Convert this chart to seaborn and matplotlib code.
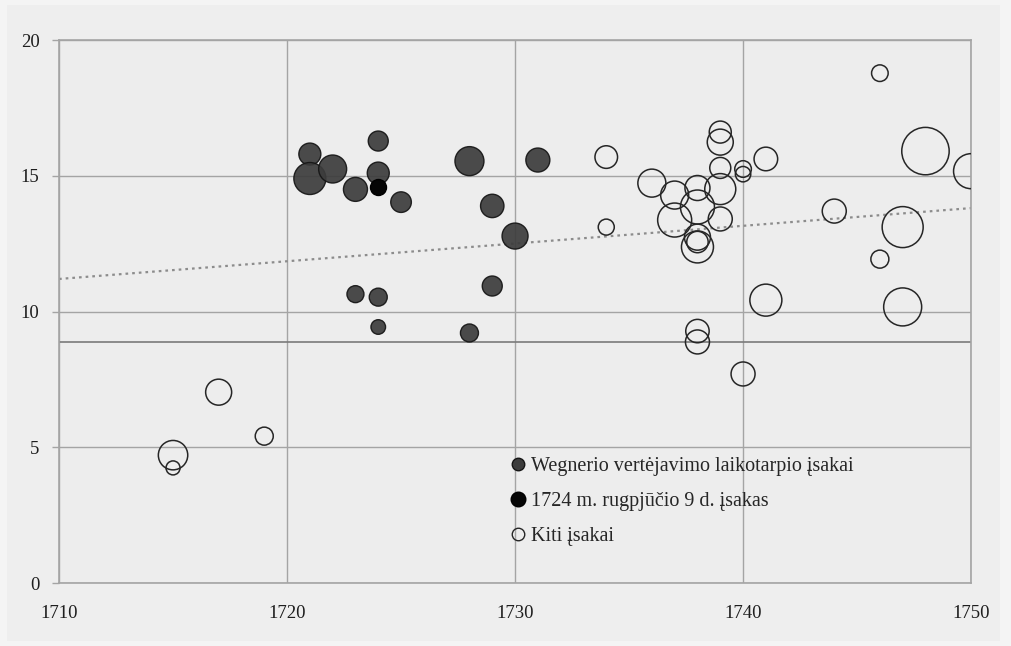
"""Bubble chart of decrees by year (Wegner translation period vs others)."""

import matplotlib.pyplot as plt
import matplotlib.patches as mpatches
from matplotlib.lines import Line2D
import pandas as pd
import seaborn as sns

# --- data --------------------------------------------------------------
wegner_year = [1721, 1721, 1722, 1723, 1724, 1724, 1725, 1728, 1731,
               1729, 1730, 1723, 1724, 1724, 1729, 1728]
wegner_val = [15.8, 14.9, 15.25, 14.5, 16.28, 15.1, 14.03, 15.54, 15.58,
              13.89, 12.78, 10.64, 10.53, 9.43, 10.94, 9.21]
wegner_r = [11, 16, 14, 12, 10, 11, 10.3, 14.5, 12,
            11.7, 13, 8.5, 9, 7.3, 10, 9]

special_year = [1724]
special_val = [14.59]
special_r = [8]

other_year = [1746, 1739, 1739, 1734, 1741, 1748, 1750, 1740, 1740, 1739,
              1736, 1737, 1738, 1739, 1738, 1737, 1739, 1734, 1738, 1738,
              1738, 1744, 1747, 1746, 1741, 1747, 1738, 1738, 1740, 1717,
              1719, 1715, 1715]
other_val = [18.78, 16.61, 16.24, 15.69, 15.62, 15.91, 15.17, 15.25, 15.06, 15.29,
             14.73, 14.29, 14.55, 14.51, 13.85, 13.37, 13.41, 13.11, 12.74, 12.56,
             12.38, 13.70, 13.11, 11.93, 10.42, 10.17, 9.28, 8.88, 7.70, 7.03,
             5.41, 4.71, 4.24]
other_r = [8.3, 11, 13, 11.3, 11.8, 23.7, 17.5, 8.3, 7.7, 10.5,
           14, 14, 12.5, 15.5, 17, 17, 12, 8, 13, 10.7,
           16, 12, 20.5, 9, 16, 19, 11.7, 12, 12, 13,
           9, 14.7, 7]

trend_year = [1710, 1750]
trend_val = [11.2, 13.81]
mean_line = 8.88

labels = ["Wegnerio vertėjavimo laikotarpio įsakai",
          "1724 m. rugpjūčio 9 d. įsakas",
          "Kiti įsakai"]

# --- styling -----------------------------------------------------------
sns.set_theme(style="white")
plt.rcParams["font.family"] = ["Liberation Serif", "DejaVu Serif"]

GRID = "#a4a4a4"
SIZE_NORM = (0, 600)
SIZES = (0, 2.0736 * 600)  # radius(px)^2 -> marker area (pt^2) at dpi 100


def frame(year, val, r):
    return pd.DataFrame({"year": year, "val": val,
                         "area": [x * x for x in r]})


fig, ax = plt.subplots(figsize=(10.11, 6.46), dpi=100)
fig.patch.set_facecolor("#f4f4f4")
fig.patches.append(mpatches.Rectangle((0.007, 0.008), 0.982, 0.985,
                                      transform=fig.transFigure,
                                      facecolor="#eeeeee", edgecolor="none",
                                      zorder=-10))
fig.subplots_adjust(left=0.0584, right=0.9605, top=0.938, bottom=0.0975)
ax.set_facecolor("#ededed")

sns.scatterplot(data=frame(other_year, other_val, other_r), x="year", y="val",
                size="area", sizes=SIZES, size_norm=SIZE_NORM,
                facecolor="none", edgecolor="#262626", linewidth=1.1,
                legend=False, ax=ax, zorder=3, clip_on=True)
sns.scatterplot(data=frame(wegner_year, wegner_val, wegner_r), x="year", y="val",
                size="area", sizes=SIZES, size_norm=SIZE_NORM,
                color="#3c3c3c", edgecolor="#151515", linewidth=1.0,
                alpha=0.92, legend=False, ax=ax, zorder=4)
sns.scatterplot(data=frame(special_year, special_val, special_r), x="year", y="val",
                size="area", sizes=SIZES, size_norm=SIZE_NORM,
                color="#050505", edgecolor="#000000", linewidth=1.0,
                legend=False, ax=ax, zorder=5)

sns.lineplot(x=trend_year, y=trend_val, ax=ax, color="#8c8c8c",
             linestyle=(0, (1.2, 1.8)), linewidth=1.6, zorder=2)
ax.axhline(mean_line, color="#7a7a7a", linewidth=1.2, zorder=2)

ax.set_xlim(1710, 1750)
ax.set_ylim(0, 20)
ax.set_xticks([1710, 1720, 1730, 1740, 1750])
ax.set_yticks([0, 5, 10, 15, 20])
ax.grid(True, color=GRID, linewidth=1.0)
ax.set_axisbelow(True)
for side in ax.spines.values():
    side.set_visible(True)
    side.set_color(GRID)
    side.set_linewidth(1.2)
ax.tick_params(axis="x", length=0, pad=16, labelsize=13.5, colors="#1e1e1e")
ax.tick_params(axis="y", length=5, width=1.0, color=GRID, pad=9,
               labelsize=13.5, labelcolor="#1e1e1e", left=True)
ax.set_xlabel("")
ax.set_ylabel("")

handles = [
    Line2D([], [], linestyle="none", marker="o", markersize=9,
           markerfacecolor="#3c3c3c", markeredgecolor="#151515"),
    Line2D([], [], linestyle="none", marker="o", markersize=10.5,
           markerfacecolor="#050505", markeredgecolor="#000000"),
    Line2D([], [], linestyle="none", marker="o", markersize=9,
           markerfacecolor="none", markeredgecolor="#262626"),
]
ax.legend(handles, labels, loc="upper left", bbox_to_anchor=(0.487, 0.247),
          frameon=False, fontsize=14.5, handlelength=0.7, handletextpad=0.3,
          labelspacing=0.78, borderaxespad=0)

plt.savefig("out.png", dpi=100, facecolor=fig.get_facecolor())
